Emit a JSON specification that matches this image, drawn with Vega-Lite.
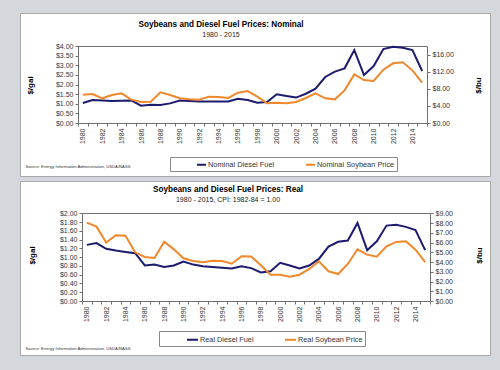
{
  "$schema": "https://vega.github.io/schema/vega-lite/v6.json",
  "background": "#d4d8dd",
  "padding": {"left": 15, "top": 12, "right": 15, "bottom": 18},
  "spacing": 3,
  "config": {
    "font": "Liberation Sans",
    "view": {"fill": "white", "stroke": "#a8a8a8", "strokeWidth": 1},
    "axis": {"grid": false, "domainColor": "#707070", "tickColor": "#707070", "labelColor": "#333333", "labelFontSize": 7, "tickSize": 3, "labelPadding": 2, "titleFontSize": 8, "titleFontWeight": "bold", "titleColor": "#000000", "labelFont": "Liberation Sans", "titleFont": "Liberation Sans"},
    "legend": {"labelFont": "Liberation Sans", "titleFont": "Liberation Sans"},
    "title": {"font": "Liberation Sans", "subtitleFont": "Liberation Sans"}
  },
  "datasets": {
    "nominal": [
      {"year": 1980, "diesel": 1.04, "soy": 6.6},
      {"year": 1981, "diesel": 1.19, "soy": 6.78},
      {"year": 1982, "diesel": 1.17, "soy": 5.77},
      {"year": 1983, "diesel": 1.14, "soy": 6.54},
      {"year": 1984, "diesel": 1.16, "soy": 6.94},
      {"year": 1985, "diesel": 1.17, "soy": 5.45},
      {"year": 1986, "diesel": 0.90, "soy": 4.91},
      {"year": 1987, "diesel": 0.95, "soy": 4.98},
      {"year": 1988, "diesel": 0.93, "soy": 7.17},
      {"year": 1989, "diesel": 1.02, "soy": 6.54},
      {"year": 1990, "diesel": 1.17, "soy": 5.77},
      {"year": 1991, "diesel": 1.14, "soy": 5.53},
      {"year": 1992, "diesel": 1.12, "soy": 5.45},
      {"year": 1993, "diesel": 1.12, "soy": 6.16},
      {"year": 1994, "diesel": 1.12, "soy": 6.08},
      {"year": 1995, "diesel": 1.12, "soy": 5.85},
      {"year": 1996, "diesel": 1.26, "soy": 7.09},
      {"year": 1997, "diesel": 1.19, "soy": 7.45},
      {"year": 1998, "diesel": 1.05, "soy": 6.15},
      {"year": 1999, "diesel": 1.09, "soy": 4.6},
      {"year": 2000, "diesel": 1.49, "soy": 4.75},
      {"year": 2001, "diesel": 1.40, "soy": 4.6},
      {"year": 2002, "diesel": 1.32, "soy": 4.91},
      {"year": 2003, "diesel": 1.52, "soy": 5.84},
      {"year": 2004, "diesel": 1.78, "soy": 6.93},
      {"year": 2005, "diesel": 2.39, "soy": 5.77},
      {"year": 2006, "diesel": 2.67, "soy": 5.53},
      {"year": 2007, "diesel": 2.84, "soy": 7.63},
      {"year": 2008, "diesel": 3.79, "soy": 11.37},
      {"year": 2009, "diesel": 2.49, "soy": 10.05},
      {"year": 2010, "diesel": 2.96, "soy": 9.82},
      {"year": 2011, "diesel": 3.84, "soy": 12.47},
      {"year": 2012, "diesel": 3.96, "soy": 13.95},
      {"year": 2013, "diesel": 3.91, "soy": 14.18},
      {"year": 2014, "diesel": 3.79, "soy": 12.31},
      {"year": 2015, "diesel": 2.70, "soy": 9.43}
    ],
    "real": [
      {"year": 1980, "diesel": 1.28, "soy": 8.04},
      {"year": 1981, "diesel": 1.32, "soy": 7.63},
      {"year": 1982, "diesel": 1.19, "soy": 5.99},
      {"year": 1983, "diesel": 1.15, "soy": 6.74},
      {"year": 1984, "diesel": 1.12, "soy": 6.7},
      {"year": 1985, "diesel": 1.09, "soy": 5.0},
      {"year": 1986, "diesel": 0.81, "soy": 4.52},
      {"year": 1987, "diesel": 0.83, "soy": 4.41},
      {"year": 1988, "diesel": 0.775, "soy": 6.09},
      {"year": 1989, "diesel": 0.81, "soy": 5.3},
      {"year": 1990, "diesel": 0.90, "soy": 4.38},
      {"year": 1991, "diesel": 0.83, "soy": 4.1},
      {"year": 1992, "diesel": 0.79, "soy": 3.97},
      {"year": 1993, "diesel": 0.775, "soy": 4.14},
      {"year": 1994, "diesel": 0.76, "soy": 4.1},
      {"year": 1995, "diesel": 0.74, "soy": 3.83},
      {"year": 1996, "diesel": 0.79, "soy": 4.59},
      {"year": 1997, "diesel": 0.75, "soy": 4.57},
      {"year": 1998, "diesel": 0.65, "soy": 3.66},
      {"year": 1999, "diesel": 0.68, "soy": 2.70},
      {"year": 2000, "diesel": 0.87, "soy": 2.70},
      {"year": 2001, "diesel": 0.81, "soy": 2.50},
      {"year": 2002, "diesel": 0.74, "soy": 2.70},
      {"year": 2003, "diesel": 0.81, "soy": 3.29},
      {"year": 2004, "diesel": 0.96, "soy": 4.07},
      {"year": 2005, "diesel": 1.24, "soy": 3.05},
      {"year": 2006, "diesel": 1.35, "soy": 2.77},
      {"year": 2007, "diesel": 1.38, "soy": 3.80},
      {"year": 2008, "diesel": 1.78, "soy": 5.31},
      {"year": 2009, "diesel": 1.16, "soy": 4.76},
      {"year": 2010, "diesel": 1.36, "soy": 4.55},
      {"year": 2011, "diesel": 1.72, "soy": 5.61},
      {"year": 2012, "diesel": 1.74, "soy": 6.06},
      {"year": 2013, "diesel": 1.69, "soy": 6.13},
      {"year": 2014, "diesel": 1.62, "soy": 5.27},
      {"year": 2015, "diesel": 1.16, "soy": 4.0}
    ]
  },
  "resolve": {"scale": {"color": "independent"}, "legend": {"color": "independent"}},
  "vconcat": [
    {
      "width": 470,
      "height": 163,
      "data": {"name": "nominal"},
      "title": {"text": "Soybeans and Diesel Fuel Prices:  Nominal", "subtitle": "1980 - 2015", "fontSize": 8.2, "fontWeight": "bold", "color": "#000000", "subtitleFontSize": 7, "subtitleColor": "#222222", "subtitlePadding": 1, "anchor": "middle", "offset": -25.5, "dx": -34},
      "layer": [
        {
          "mark": {"type": "line", "strokeWidth": 2},
          "encoding": {
            "x": {"field": "year", "type": "ordinal", "bandPosition": 0.5,
              "scale": {"type": "band", "range": [58, 407], "paddingInner": 0, "paddingOuter": 0},
              "axis": {"orient": "bottom", "offset": -53, "tickBand": "extent", "labelAngle": -90, "labelOverlap": false,
                "labelExpr": "datum.value % 2 == 0 ? datum.label : ''",
                "title": "Source: Energy Information Administration, USDA/NASS", "titleX": 5, "titleY": 43, "titleAlign": "left", "titleAnchor": "start", "titleBaseline": "middle", "titleFontSize": 4.2, "titleFontWeight": "normal", "titleColor": "#333333"}},
            "y": {"field": "diesel", "type": "quantitative",
              "scale": {"domain": [0, 4], "range": [110, 33], "nice": false, "zero": true},
              "axis": {"orient": "left", "offset": -58, "values": [0, 0.5, 1, 1.5, 2, 2.5, 3, 3.5, 4], "format": "$.2f", "title": "$/gal", "titleX": -48, "titleY": 72, "titleAngle": 270, "titleAlign": "center", "titleBaseline": "middle"}},
            "color": {"datum": "Nominal Diesel Fuel", "type": "nominal",
              "scale": {"domain": ["Nominal Diesel Fuel", "Nominal Soybean Price"], "range": ["#1c1b6e", "#f0882c"]},
              "legend": {"orient": "none", "legendX": 150, "legendY": 144, "direction": "horizontal", "title": " ", "titleOrient": "left", "titlePadding": 24, "titleFontSize": 7,
                "padding": 2, "symbolType": "stroke", "symbolStrokeWidth": 2, "symbolSize": 81, "labelOffset": 1, "labelFontSize": 7.4, "labelColor": "#333333", "columnPadding": 27, "strokeColor": "#8a8a8a", "fillColor": "white",
                "labelExpr": "indexof(datum.label, 'Soybean') >= 0 ? datum.label + '            ' : datum.label"}}
          }
        },
        {
          "mark": {"type": "line", "strokeWidth": 2},
          "encoding": {
            "x": {"field": "year", "type": "ordinal", "bandPosition": 0.5,
              "axis": {"orient": "top", "offset": -33, "ticks": false, "labels": false, "title": null}},
            "y": {"field": "soy", "type": "quantitative",
              "scale": {"domain": [0, 18], "range": [110, 33], "nice": false, "zero": true},
              "axis": {"orient": "right", "offset": -63, "values": [0, 4, 8, 12, 16], "format": "$.2f", "title": "$/bu", "titleX": 51, "titleY": 72, "titleAngle": 270, "titleAlign": "center", "titleBaseline": "middle"}},
            "color": {"datum": "Nominal Soybean Price", "type": "nominal"}
          }
        }
      ],
      "resolve": {"scale": {"y": "independent"}, "axis": {"x": "independent", "y": "independent"}}
    },
    {
      "width": 470,
      "height": 174,
      "data": {"name": "real"},
      "title": {"text": "Soybeans and Diesel Fuel Prices:  Real", "subtitle": "1980 - 2015, CPI: 1982-84 = 1.00", "fontSize": 8.2, "fontWeight": "bold", "color": "#000000", "subtitleFontSize": 7, "subtitleColor": "#222222", "subtitlePadding": 1, "anchor": "middle", "offset": -22.5, "dx": -27},
      "layer": [
        {
          "mark": {"type": "line", "strokeWidth": 2},
          "encoding": {
            "x": {"field": "year", "type": "ordinal", "bandPosition": 0.5,
              "scale": {"type": "band", "range": [62, 410], "paddingInner": 0, "paddingOuter": 0},
              "axis": {"orient": "bottom", "offset": -54, "tickBand": "extent", "labelAngle": -90, "labelOverlap": false,
                "labelExpr": "datum.value % 2 == 0 ? datum.label : ''",
                "title": "Source: Energy Information Administration, USDA/NASS", "titleX": 5, "titleY": 47.7, "titleAlign": "left", "titleAnchor": "start", "titleBaseline": "middle", "titleFontSize": 4.2, "titleFontWeight": "normal", "titleColor": "#333333"}},
            "y": {"field": "diesel", "type": "quantitative",
              "scale": {"domain": [0, 2], "range": [120, 32.3], "nice": false, "zero": true},
              "axis": {"orient": "left", "offset": -62, "values": [0, 0.2, 0.4, 0.6, 0.8, 1, 1.2, 1.4, 1.6, 1.8, 2], "format": "$.2f", "title": "$/gal", "titleX": -50, "titleY": 74, "titleAngle": 270, "titleAlign": "center", "titleBaseline": "middle"}},
            "color": {"datum": "Real Diesel Fuel", "type": "nominal",
              "scale": {"domain": ["Real Diesel Fuel", "Real Soybean Price"], "range": ["#1c1b6e", "#f0882c"]},
              "legend": {"orient": "none", "legendX": 139, "legendY": 150, "direction": "horizontal", "title": " ", "titleOrient": "left", "titlePadding": 25, "titleFontSize": 7,
                "padding": 2, "symbolType": "stroke", "symbolStrokeWidth": 2, "symbolSize": 121, "labelOffset": 1, "labelFontSize": 7.3, "labelColor": "#333333", "columnPadding": 27, "strokeColor": "#8a8a8a", "fillColor": "white",
                "labelExpr": "indexof(datum.label, 'Soybean') >= 0 ? datum.label + '             ' : datum.label"}}
          }
        },
        {
          "mark": {"type": "line", "strokeWidth": 2},
          "encoding": {
            "x": {"field": "year", "type": "ordinal", "bandPosition": 0.5,
              "axis": {"orient": "top", "offset": -32, "ticks": false, "labels": false, "title": null}},
            "y": {"field": "soy", "type": "quantitative",
              "scale": {"domain": [0, 9], "range": [120, 32.3], "nice": false, "zero": true},
              "axis": {"orient": "right", "offset": -60, "values": [0, 1, 2, 3, 4, 5, 6, 7, 8, 9], "format": "$.2f", "title": "$/bu", "titleX": 49, "titleY": 74, "titleAngle": 270, "titleAlign": "center", "titleBaseline": "middle"}},
            "color": {"datum": "Real Soybean Price", "type": "nominal"}
          }
        }
      ],
      "resolve": {"scale": {"y": "independent"}, "axis": {"x": "independent", "y": "independent"}}
    }
  ]
}
